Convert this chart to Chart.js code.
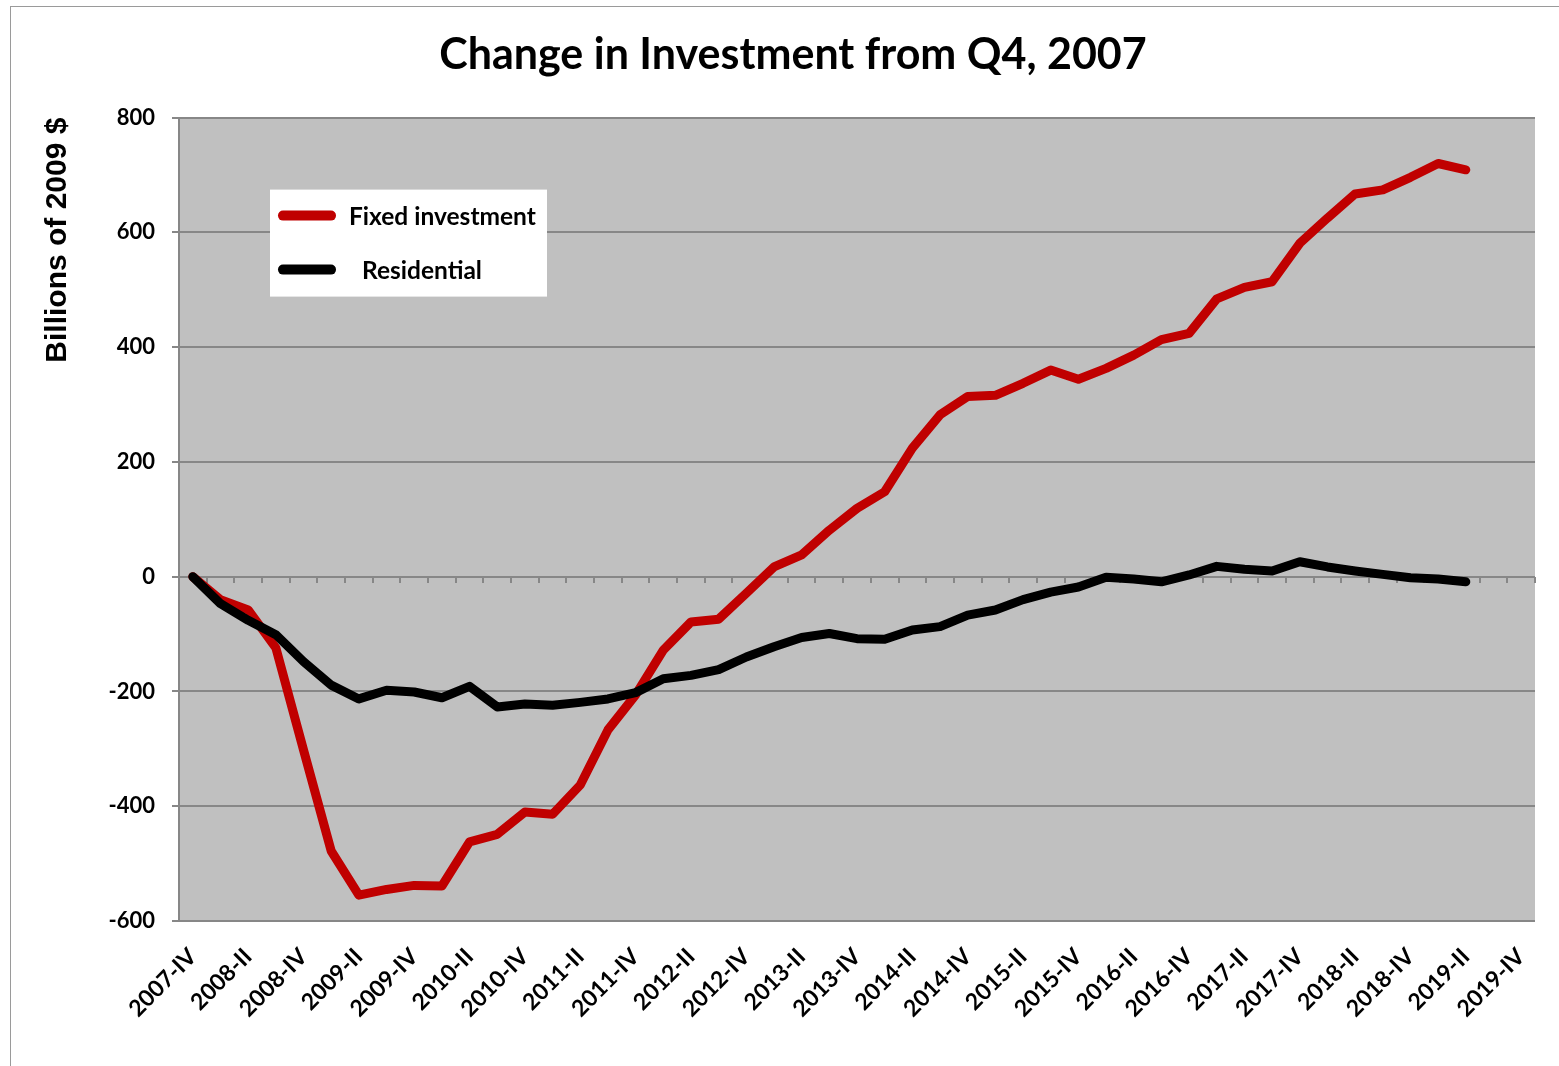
<!DOCTYPE html>
<html>
<head>
<meta charset="utf-8">
<script src="https://cdn.jsdelivr.net/npm/chart.js@4.4.1/dist/chart.umd.min.js"></script>
<style>
    html, body { margin: 0; padding: 0; background: #fff; overflow: hidden; }
    #frame {
        position: absolute; left: 10px; top: 6px; width: 1560px; height: 1070px;
        border-left: 1px solid #9a9a9a; border-top: 1px solid #9a9a9a;
    }
    #chart { position: absolute; left: 0; top: 0; }
</style>
</head>
<body>
<div id="frame"></div>
<canvas id="chart" width="1559" height="1066"></canvas>
<script>
// Quarters from 2007-IV to 2019-IV
const quarters = [
    '2007-IV',
    '2008-I', '2008-II', '2008-III', '2008-IV',
    '2009-I', '2009-II', '2009-III', '2009-IV',
    '2010-I', '2010-II', '2010-III', '2010-IV',
    '2011-I', '2011-II', '2011-III', '2011-IV',
    '2012-I', '2012-II', '2012-III', '2012-IV',
    '2013-I', '2013-II', '2013-III', '2013-IV',
    '2014-I', '2014-II', '2014-III', '2014-IV',
    '2015-I', '2015-II', '2015-III', '2015-IV',
    '2016-I', '2016-II', '2016-III', '2016-IV',
    '2017-I', '2017-II', '2017-III', '2017-IV',
    '2018-I', '2018-II', '2018-III', '2018-IV',
    '2019-I', '2019-II', '2019-III', '2019-IV'
];

// Change from 2007-IV, billions of 2009 $ (data ends 2019-II)
const fixedInvestment = [
    0, -40, -58, -124, -302, -478, -555, -545, -538, -539,
    -462, -449, -410, -414, -363, -267, -206, -128, -79, -74,
    -29, 17, 38, 81, 119, 148, 224, 282, 314, 316,
    337, 360, 344, 363, 386, 413, 424, 484, 504, 514,
    581, 625, 667, 674, 696, 720, 709
];
const residential = [
    0, -47, -76, -101, -148, -189, -213, -198, -201, -211,
    -191, -227, -222, -224, -219, -213, -202, -178, -172, -162,
    -140, -122, -106, -99, -108, -109, -93, -87, -67, -58,
    -40, -27, -18, -1, -4, -9, 3, 18, 13, 10,
    26, 17, 10, 4, -2, -4, -9
];

const yTicks = [-600, -400, -200, 0, 200, 400, 600, 800];

const GRID = '#878787';
const FONT = 'Lato';

// Gray plot background
const plotBackground = {
    id: 'plotBackground',
    beforeDraw(chart) {
        const { ctx, chartArea: a } = chart;
        ctx.save();
        ctx.fillStyle = '#c0c0c0';
        ctx.fillRect(a.left, a.top, a.right - a.left, a.bottom - a.top);
        ctx.restore();
    }
};

// Legend box sitting inside the plot, like the Excel one
const insideLegend = {
    id: 'insideLegend',
    afterDraw(chart) {
        const { ctx, chartArea: a } = chart;
        const bx = a.left + 91, by = a.top + 72, bw = 277, bh = 107;
        const indent = [0, 13];
        ctx.save();
        ctx.fillStyle = '#ffffff';
        ctx.fillRect(bx, by, bw, bh);
        chart.data.datasets.forEach((ds, i) => {
            const y = by + 26 + i * 54;
            ctx.strokeStyle = ds.borderColor;
            ctx.lineWidth = 10;
            ctx.lineCap = 'round';
            ctx.beginPath();
            ctx.moveTo(bx + 13, y);
            ctx.lineTo(bx + 61, y);
            ctx.stroke();
            ctx.fillStyle = '#000';
            ctx.font = 'bold 24.5px ' + FONT;
            ctx.textBaseline = 'middle';
            ctx.textAlign = 'left';
            ctx.fillText(ds.label, bx + 79 + indent[i], y + 1);
        });
        ctx.restore();
    }
};

new Chart(document.getElementById('chart'), {
    type: 'line',
    data: {
        labels: quarters,
        datasets: [
            {
                label: 'Fixed investment',
                data: fixedInvestment,
                borderColor: '#c00000',
                borderWidth: 9,
                borderCapStyle: 'round',
                borderJoinStyle: 'round',
                pointRadius: 0,
                tension: 0,
                order: 2
            },
            {
                label: 'Residential',
                data: residential,
                borderColor: '#000000',
                borderWidth: 9,
                borderCapStyle: 'round',
                borderJoinStyle: 'round',
                pointRadius: 0,
                tension: 0,
                order: 1
            }
        ]
    },
    options: {
        responsive: false,
        animation: false,
        devicePixelRatio: 1,
        layout: { padding: { left: 51, right: 24, top: 0, bottom: 0 } },
        plugins: {
            legend: { display: false },
            tooltip: { enabled: false },
            title: {
                display: true,
                text: 'Change in Investment from Q4, 2007',
                color: '#000',
                font: { family: FONT, size: 43, weight: 'bold' },
                padding: { top: 29, bottom: 37 }
            }
        },
        scales: {
            x: {
                type: 'category',
                position: 'bottom',
                offset: true,
                grid: { display: false },
                border: { display: false },
                ticks: {
                    autoSkip: false,
                    maxRotation: 45,
                    minRotation: 45,
                    padding: 14,
                    color: '#000',
                    font: { family: FONT, size: 23, weight: 'bold' },
                    callback: (v, i) => (i % 2 === 0 ? quarters[i] : null)
                },
                afterFit: s => { s.height = 145; }
            },
            // tick marks sitting on the zero line
            xZero: {
                type: 'category',
                position: { y: 0 },
                offset: true,
                grid: {
                    offset: true,
                    drawOnChartArea: false,
                    drawTicks: true,
                    tickLength: 6,
                    color: GRID,
                    lineWidth: 2
                },
                border: { display: false },
                ticks: { display: false }
            },
            y: {
                min: -600,
                max: 800,
                afterBuildTicks: s => { s.ticks = yTicks.map(v => ({ value: v })); },
                grid: { color: GRID, lineWidth: 2, tickLength: 7 },
                border: { display: true, color: GRID, width: 2 },
                ticks: {
                    padding: 17,
                    color: '#000',
                    font: { family: FONT, size: 22, weight: 'bold' }
                },
                title: {
                    display: true,
                    text: 'Billions of 2009 $',
                    align: 'end',
                    color: '#000',
                    font: { family: 'Liberation Sans', size: 30, weight: 'bold' },
                    padding: { top: -11, bottom: 0 }
                },
                afterFit: s => { s.width = 128; }
            }
        }
    },
    plugins: [plotBackground, insideLegend]
});
</script>
</body>
</html>
